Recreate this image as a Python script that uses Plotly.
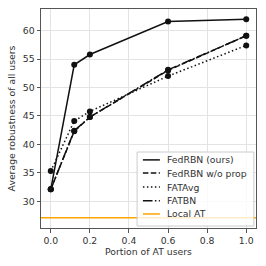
import plotly.graph_objects as go

portion = [0.0, 0.12, 0.2, 0.6, 1.0]
fedrbn = [32.1, 54.0, 55.8, 61.6, 62.0]
fedrbn_noprop = [32.1, 42.3, 44.8, 53.0, 59.1]
fatavg = [35.3, 44.1, 45.8, 52.0, 57.4]
fatbn = [32.1, 42.4, 44.8, 53.1, 59.1]
local_at = 27.1
x_range = [-0.05, 1.05]
y_range = [25.3, 63.8]
x_ticks = [0.0, 0.2, 0.4, 0.6, 0.8, 1.0]
y_ticks = [30, 35, 40, 45, 50, 55, 60]

FS = 9.3
TXT = "#333333"
DASHED = "5.5px,2.4px"
DOTTED = "1.5px,2.5px"
DASHDOT = "9.6px,2.4px,1.5px,2.4px"
fig = go.Figure()
series = [
    ("FedRBN (ours)", fedrbn, "solid", "#111111"),
    ("FedRBN w/o prop", fedrbn_noprop, DASHED, "#111111"),
    ("FATAvg", fatavg, DOTTED, "#111111"),
    ("FATBN", fatbn, DASHDOT, "#111111"),
]
for name, vals, dash, col in series:
    fig.add_trace(go.Scatter(
        x=portion, y=vals, name=name, mode="lines+markers",
        line=dict(color=col, width=1.5, dash=dash),
        marker=dict(color=col, size=6), showlegend=False,
    ))
fig.add_trace(go.Scatter(
    x=x_range, y=[local_at, local_at], name="Local AT", mode="lines",
    line=dict(color="#FFA500", width=1.5), showlegend=False,
))

# legend (drawn in paper coordinates)
legend_items = [(n, d, c) for n, _, d, c in series] + [("Local AT", "solid", "#FFA500")]
shapes = [dict(type="rect", xref="paper", yref="paper", x0=0.447, x1=0.99, y0=0.009, y1=0.347,
               fillcolor="rgba(255,255,255,0.8)", line=dict(color="#cccccc", width=1), layer="above")]
annotations = []
row_y = [0.311, 0.251, 0.187, 0.125, 0.064]
for (name, dash, col), yy in zip(legend_items, row_y):
    shapes.append(dict(type="line", xref="paper", yref="paper", x0=0.474, x1=0.553, y0=yy, y1=yy,
                       line=dict(color=col, width=1.5, dash=dash), layer="above"))
    annotations.append(dict(xref="paper", yref="paper", x=0.577, y=yy, text=name, showarrow=False,
                            xanchor="left", yanchor="middle", font=dict(size=FS, color=TXT)))

axis_common = dict(
    showgrid=True, gridcolor="#e3e3e3", gridwidth=1,
    showline=True, linecolor="#555555", linewidth=1, mirror=True,
    ticks="outside", ticklen=3.5, tickcolor="#555555",
    tickfont=dict(size=FS, color=TXT),
    zeroline=False, automargin=False,
)
fig.update_xaxes(range=x_range, tickvals=x_ticks, tickformat=".1f",
                 title=dict(text="Portion of AT users", font=dict(size=FS, color=TXT), standoff=3),
                 **axis_common)
fig.update_yaxes(range=y_range, tickvals=y_ticks,
                 title=dict(text="Average robustness of all users", font=dict(size=FS, color=TXT), standoff=5),
                 **axis_common)

fig.update_layout(
    width=266, height=266,
    margin=dict(l=41, r=10, t=9, b=38),
    paper_bgcolor="white", plot_bgcolor="white",
    font=dict(family="DejaVu Sans", size=FS, color=TXT),
    shapes=shapes, annotations=annotations,
    showlegend=False,
)
fig.write_html("out.html", config={"displayModeBar": False},
               post_script="document.body.style.margin='0';document.body.style.overflow='hidden';")
